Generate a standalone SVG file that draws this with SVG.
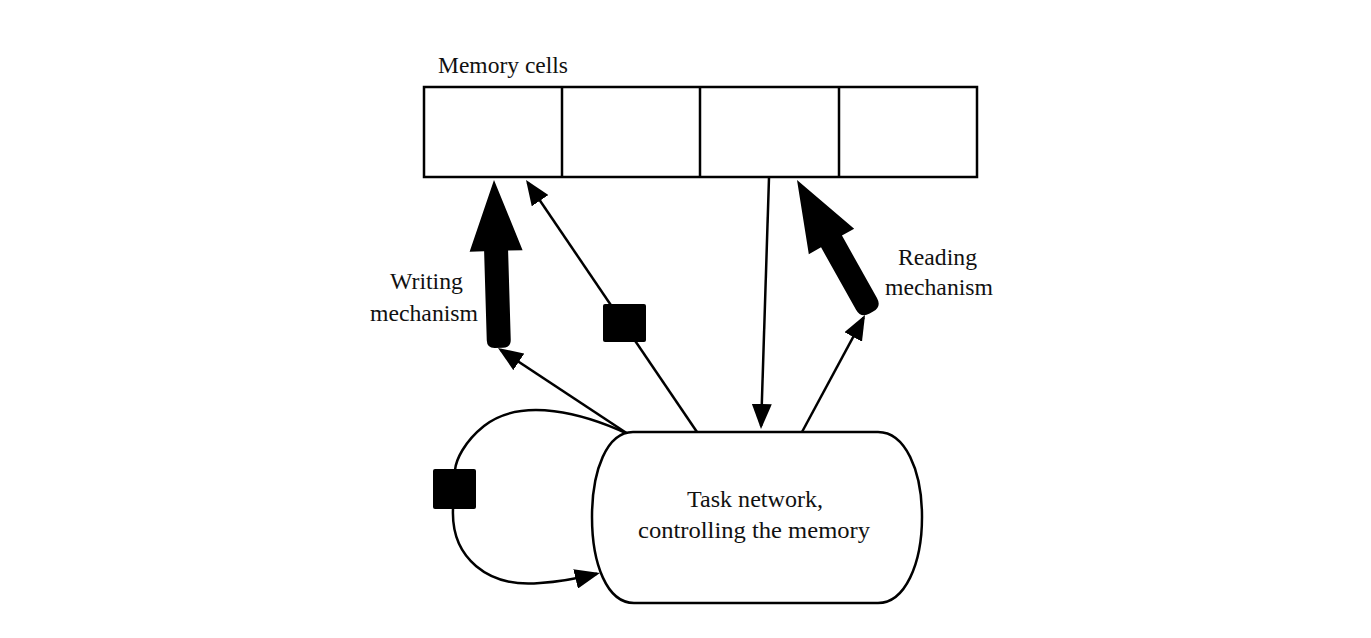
<svg xmlns="http://www.w3.org/2000/svg" width="1371" height="638" viewBox="0 0 1371 638">
<defs>
<style>
text{font-family:'Liberation Serif','DejaVu Serif',serif;font-size:23px;fill:#111}
.ln{fill:none;stroke:#000;stroke-width:2.5}
.blk{fill:#000;stroke:none}
</style>
<marker id="ah" markerUnits="userSpaceOnUse" markerWidth="25" markerHeight="20" refX="22" refY="10" orient="auto" viewBox="0 0 25 20">
<path d="M0,0 L25,10 L0,20 Z" fill="#000"/>
</marker>
</defs>
<rect width="1371" height="638" fill="#fff"/>

<g id="connectors">
<path class="ln" d="M628,434 L500.5,349.7" marker-end="url(#ah)"/>
<path class="ln" d="M697,432 L527.7,182.5" marker-end="url(#ah)"/>
<path class="ln" d="M769,178 L761.1,426" marker-end="url(#ah)"/>
<path class="ln" d="M802,432 L863.6,317.6" marker-end="url(#ah)"/>
<path class="ln" d="M628,434 C585,414 522,396 484,426 C464,442 456,460 455,470"/>
<path class="ln" d="M453,509 C451,558 488,588 540,583 C556,582 575,579 597,573.7" marker-end="url(#ah)"/>
<rect class="blk" x="603" y="304" width="43" height="38" rx="2"/>
<rect class="blk" x="433" y="469" width="43" height="40" rx="2"/>
<path id="writing-arrow" class="blk" transform="translate(494,180) rotate(-1.7)" d="M0,0 L26.5,71 L12,71 L12,160 Q12,168 4,168 L-4,168 Q-12,168 -12,160 L-12,71 L-26.5,71 Z"/>
<path id="reading-arrow" class="blk" transform="translate(797,180) rotate(-29.3)" d="M0,0 L26,70.5 L12,70.5 L12,142 Q12,152 2,152 L-2,152 Q-12,152 -12,142 L-12,70.5 L-26,70.5 Z"/>
</g>

<g id="memory-cells">
<rect x="424" y="87" width="553" height="90" fill="#fff" stroke="#000" stroke-width="2.5"/>
<line class="ln" x1="562" y1="87" x2="562" y2="177"/>
<line class="ln" x1="700" y1="87" x2="700" y2="177"/>
<line class="ln" x1="839" y1="87" x2="839" y2="177"/>
<text x="438" y="73" font-family="Liberation Serif, serif" textLength="130" lengthAdjust="spacingAndGlyphs">Memory cells</text>
</g>

<g id="writing-label">
<text x="390" y="289" font-family="Liberation Serif, serif" textLength="73" lengthAdjust="spacingAndGlyphs">Writing</text>
<text x="370" y="321" font-family="Liberation Serif, serif" textLength="108" lengthAdjust="spacingAndGlyphs">mechanism</text>
</g>

<g id="reading-label">
<text x="898" y="265" font-family="Liberation Serif, serif" textLength="79" lengthAdjust="spacingAndGlyphs">Reading</text>
<text x="885" y="295" font-family="Liberation Serif, serif" textLength="108" lengthAdjust="spacingAndGlyphs">mechanism</text>
</g>

<g id="task-network">
<path d="M633,432 L878,432 C905,432 922,470 922,517 C922,564 905,603 878,603 L634,603 C607,603 592,564 592,517 C592,470 607,432 633,432 Z" fill="#fff" stroke="#000" stroke-width="2.5"/>
<text x="687" y="507" font-family="Liberation Serif, serif" textLength="136" lengthAdjust="spacingAndGlyphs">Task network,</text>
<text x="638" y="538" font-family="Liberation Serif, serif" textLength="232" lengthAdjust="spacingAndGlyphs">controlling the memory</text>
</g>
</svg>
